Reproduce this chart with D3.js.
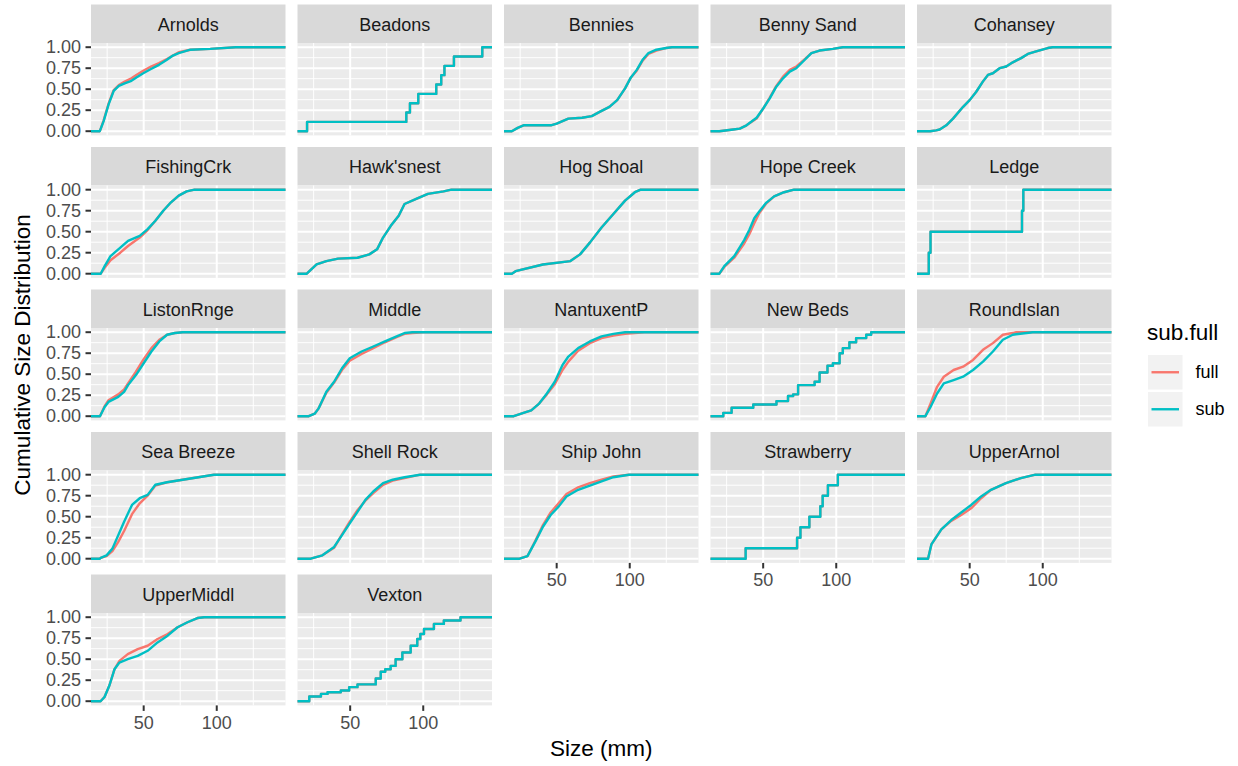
<!DOCTYPE html>
<html>
<head>
<meta charset="utf-8">
<script src="https://cdn.jsdelivr.net/npm/d3@7"></script>
<style>
  body { margin: 0; background: #fff; }
  text { font-family: "Liberation Sans", Arial, Helvetica, sans-serif; }
</style>
</head>
<body>
<div id="chart"></div>
<script>
// facet names, in plotting order
var sites = ["Arnolds", "Beadons", "Bennies", "Benny Sand", "Cohansey",
             "FishingCrk", "Hawk'snest", "Hog Shoal", "Hope Creek", "Ledge",
             "ListonRnge", "Middle", "NantuxentP", "New Beds", "RoundIslan",
             "Sea Breeze", "Shell Rock", "Ship John", "Strawberry", "UpperArnol",
             "UpperMiddl", "Vexton"];

// sites with only a few oysters, drawn as plain steps
var stepSites = ["Beadons", "Ledge", "New Beds", "Strawberry", "Vexton"];

var seriesNames = ["full", "sub"];
var seriesColors = ["#F8766D", "#00BFC4"];

// size range of the data (mm) and axis ticks
var sizeRange = [20, 141];
var xTicks = [50, 100];
var xMinor = [25, 75, 125];
var yTicks = [0, 0.25, 0.5, 0.75, 1];
var yMinor = [0.125, 0.375, 0.625, 0.875];

// each row: [size mm, cum. fraction full, cum. fraction sub]
var arnolds = [[20,0,0],[22.6,0.13,0.12],[26,0.33,0.32],[29.5,0.49,0.48],[33,0.55,0.54],[37,0.59,0.57],
  [41.6,0.63,0.60],[45,0.67,0.64],[49.7,0.72,0.69],[55,0.77,0.74],[60.5,0.81,0.79],[65.9,0.86,0.85],
  [70,0.90,0.90],[74,0.94,0.93],[82,0.97,0.97],[95.6,0.98,0.98],[113,1,1]];
var beadons = [[20.5,0.111,0.111],[88.4,0.222,0.222],[90.9,0.333,0.333],[96.6,0.444,0.444],[108.9,0.556,0.556],
  [112.3,0.667,0.667],[114.5,0.778,0.778],[121,0.889,0.889],[140.4,1,1]];
var bennies = [[19.3,0,0],[23.3,0.04,0.04],[27.3,0.07,0.07],[46,0.07,0.07],[50,0.09,0.09],[54,0.12,0.12],
  [58,0.15,0.15],[67.4,0.16,0.16],[74,0.18,0.18],[79.4,0.23,0.23],[86.1,0.29,0.29],[91.4,0.37,0.37],
  [96.8,0.51,0.51],[100.8,0.64,0.64],[104.8,0.72,0.73],[108.8,0.84,0.85],[112.8,0.92,0.93],
  [118.2,0.96,0.97],[124.9,0.99,0.99],[128.9,1,1]];
var bennySand = [[20,0,0],[29.5,0.02,0.02],[34,0.03,0.03],[38.6,0.07,0.07],[45.5,0.15,0.16],[50,0.27,0.27],
  [54.5,0.40,0.39],[59,0.54,0.53],[63.6,0.65,0.63],[68.2,0.73,0.71],[72.7,0.77,0.75],[77.3,0.84,0.83],
  [83,0.93,0.93],[88.6,0.96,0.96],[97.7,0.98,0.98],[104.5,1,1]];
var cohansey = [[23,0,0],[27,0.01,0.01],[29.5,0.02,0.02],[34,0.07,0.07],[38.6,0.15,0.15],[45.5,0.29,0.29],
  [50,0.37,0.37],[54.5,0.47,0.47],[59,0.59,0.59],[62.5,0.67,0.67],[65.9,0.69,0.69],[70.5,0.75,0.75],
  [75,0.77,0.77],[79.5,0.82,0.82],[85.2,0.87,0.87],[89.8,0.92,0.92],[95.5,0.95,0.95],[103.4,0.99,0.99],[106.8,1,1]];
var fishingCrk = [[20.6,0,0],[23.3,0.07,0.09],[27.3,0.16,0.21],[34,0.25,0.31],[39.3,0.33,0.39],[47.3,0.43,0.45],
  [52.7,0.52,0.53],[58,0.63,0.63],[63.4,0.75,0.75],[68.7,0.85,0.85],[74,0.93,0.93],[79.4,0.98,0.98],[84.8,1,1]];
var hawksnest = [[20.3,0,0],[27,0.11,0.11],[33.7,0.15,0.15],[41.7,0.18,0.18],[55,0.19,0.19],[63.1,0.23,0.23],
  [68.4,0.29,0.29],[72.5,0.43,0.43],[77.8,0.57,0.57],[83.2,0.69,0.69],[87.2,0.83,0.83],[95.2,0.89,0.89],
  [103.2,0.95,0.95],[113.9,0.98,0.98],[119.3,1,1]];
var hogShoal = [[19.3,0,0],[21.9,0.03,0.03],[40.6,0.11,0.11],[59.4,0.15,0.15],[66,0.23,0.23],[72.7,0.37,0.37],
  [80.7,0.55,0.55],[88.8,0.71,0.71],[96.8,0.87,0.87],[103.5,0.97,0.97],[107.5,1,1]];
var hopeCreek = [[20,0,0],[23.4,0.08,0.09],[30.2,0.19,0.21],[37,0.36,0.40],[40.5,0.47,0.52],[43.9,0.60,0.66],
  [47.3,0.72,0.74],[51.8,0.83,0.84],[57.5,0.92,0.92],[64.3,0.97,0.97],[71.1,1,1]];
var ledge = [[22,0.25,0.25],[23.2,0.5,0.5],[85.8,0.75,0.75],[86.7,1,1]];
var listonRnge = [[20.1,0,0],[23.3,0.12,0.11],[25.9,0.19,0.17],[32.6,0.26,0.23],[36.6,0.32,0.29],[39.3,0.39,0.37],
  [44.7,0.53,0.49],[50,0.68,0.63],[55.3,0.81,0.77],[60.7,0.91,0.89],[66,0.97,0.97],[71.4,0.99,0.99],[76.7,1,1]];
var middle = [[21.7,0,0],[25.7,0.03,0.03],[28.3,0.09,0.09],[33.7,0.28,0.29],[39,0.40,0.41],[44.4,0.55,0.57],
  [49.7,0.66,0.69],[57.8,0.74,0.77],[65.8,0.81,0.83],[73.8,0.88,0.89],[81.8,0.94,0.95],[87.2,0.98,0.99],[92.5,0.99,1],[100,1,1]];
var nantuxentP = [[20.6,0,0],[27.3,0.04,0.04],[32.6,0.07,0.07],[38,0.15,0.15],[43.3,0.26,0.27],[48.7,0.38,0.41],
  [54,0.55,0.61],[58,0.65,0.71],[64.7,0.78,0.81],[72.7,0.87,0.89],[80.7,0.93,0.95],[88.8,0.96,0.98],
  [96.8,0.98,1],[110,1,1]];
var newBeds = [[22.7,0.04,0.04],[28.4,0.10,0.10],[43.2,0.14,0.14],[59.1,0.18,0.18],[67,0.24,0.24],[70.5,0.26,0.26],
  [73.9,0.37,0.37],[85.2,0.41,0.41],[88.6,0.52,0.52],[94,0.60,0.60],[97.7,0.63,0.63],[102.3,0.75,0.75],
  [104.5,0.81,0.81],[109,0.88,0.88],[113.6,0.93,0.93],[120.5,0.97,0.97],[123.9,1,1]];
var roundIslan = [[19.7,0,0],[23.2,0.15,0.11],[27.7,0.35,0.27],[32.3,0.47,0.39],[39,0.55,0.43],[45.5,0.59,0.47],
  [52.3,0.67,0.55],[59.1,0.79,0.65],[65.9,0.87,0.77],[72.7,0.97,0.91],[79.5,0.99,0.97],[81.8,1,0.975],[93.2,1,1]];
var seaBreeze = [[20,0,0],[20.6,0.01,0.01],[24.6,0.03,0.04],[28.6,0.09,0.12],[32.6,0.20,0.28],[36.6,0.33,0.44],
  [42,0.53,0.64],[47.3,0.66,0.72],[52.7,0.75,0.76],[58,0.87,0.88],[66,0.91,0.91],[76.7,0.94,0.94],
  [87.4,0.97,0.97],[98.1,1,1]];
var shellRock = [[23,0,0],[31,0.04,0.04],[39,0.13,0.14],[44.4,0.29,0.28],[49.7,0.44,0.42],[55.1,0.58,0.56],
  [60.4,0.69,0.70],[65.8,0.78,0.80],[72.5,0.88,0.90],[79.1,0.93,0.94],[87.2,0.96,0.97],[97.9,1,1]];
var shipJohn = [[24.6,0,0],[30,0.03,0.03],[35.3,0.21,0.20],[40.6,0.40,0.38],[45.9,0.55,0.52],[51.3,0.66,0.62],
  [56.7,0.77,0.74],[64.7,0.85,0.82],[72.7,0.90,0.87],[80.7,0.94,0.92],[88.8,0.98,0.97],[99.5,1,1]];
var strawberry = [[38,0.125,0.125],[73.2,0.25,0.25],[75.5,0.375,0.375],[81.6,0.5,0.5],[89.1,0.625,0.625],
  [90.7,0.75,0.75],[94.3,0.875,0.875],[101.1,1,1]];
var upperArnol = [[21.5,0,0],[23.8,0.17,0.17],[30.6,0.35,0.35],[37.4,0.45,0.46],[44.2,0.52,0.55],[51,0.60,0.64],
  [57.8,0.72,0.74],[64.6,0.82,0.82],[74.8,0.90,0.90],[85,0.96,0.96],[95,1,1]];
var upperMiddl = [[20.5,0,0],[23.2,0.05,0.05],[26.6,0.19,0.19],[30,0.38,0.38],[33.4,0.48,0.46],[39.1,0.56,0.50],
  [45.9,0.62,0.54],[52.7,0.66,0.60],[59.5,0.74,0.70],[66.4,0.80,0.78],[73.2,0.88,0.88],[80,0.94,0.94],
  [86.8,0.99,0.99],[91.4,1,1]];
var vexton = [[22,0.056,0.056],[30,0.087,0.087],[34.5,0.107,0.107],[43.6,0.127,0.127],[49.3,0.167,0.167],
  [55,0.2,0.2],[67.5,0.27,0.27],[70.9,0.35,0.35],[74,0.38,0.38],[77.7,0.42,0.42],[81.1,0.5,0.5],
  [85.7,0.58,0.58],[91.4,0.66,0.66],[95.9,0.74,0.74],[98,0.8,0.8],[100.5,0.86,0.86],[107.3,0.92,0.92],
  [114.1,0.96,0.96],[125.5,1,1]];

var siteData = [arnolds, beadons, bennies, bennySand, cohansey, fishingCrk, hawksnest, hogShoal, hopeCreek,
  ledge, listonRnge, middle, nantuxentP, newBeds, roundIslan, seaBreeze, shellRock, shipJohn, strawberry,
  upperArnol, upperMiddl, vexton];

// layout
var width = 1238, height = 766;
var ncol = 5;
var left0 = 91, top0 = 4.5;
var panelW = 194.5, panelH = 92.4, stripH = 38.5, gapX = 12, gapY = 11.6;
var tickLen = 5.5;
var axisFont = "18px", titleFont = "22.5px";

// 5% expansion like ggplot
var span = sizeRange[1] - sizeRange[0];
var xDom = [sizeRange[0] - span * 0.05, sizeRange[1] + span * 0.05];
var x = d3.scaleLinear().domain(xDom).range([0, panelW]);
var y = d3.scaleLinear().domain([-0.05, 1.05]).range([panelH, 0]);

var svg = d3.select("#chart").append("svg")
  .attr("width", width)
  .attr("height", height);

svg.append("rect").attr("width", width).attr("height", height).attr("fill", "#fff");

sites.forEach(function(name, i) {
  var col = i % ncol, row = Math.floor(i / ncol);
  var gx = left0 + col * (panelW + gapX);
  var gy = top0 + row * (stripH + panelH + gapY);
  var rows = siteData[i];
  var isStep = stepSites.indexOf(name) >= 0;

  // strip
  svg.append("rect")
    .attr("x", gx).attr("y", gy)
    .attr("width", panelW).attr("height", stripH)
    .attr("fill", "#D9D9D9");
  svg.append("text")
    .attr("x", gx + panelW / 2).attr("y", gy + stripH / 2 + 1)
    .attr("text-anchor", "middle")
    .attr("dominant-baseline", "central")
    .style("font-size", axisFont)
    .attr("fill", "#1A1A1A")
    .text(name);

  var g = svg.append("g")
    .attr("transform", "translate(" + gx + "," + (gy + stripH) + ")");

  g.append("rect")
    .attr("width", panelW).attr("height", panelH)
    .attr("fill", "#EBEBEB");

  // minor grid
  g.selectAll(".xminor").data(xMinor).enter().append("line")
    .attr("x1", function(d) { return x(d); }).attr("x2", function(d) { return x(d); })
    .attr("y1", 0).attr("y2", panelH)
    .attr("stroke", "#fff").attr("stroke-width", 1);
  g.selectAll(".yminor").data(yMinor).enter().append("line")
    .attr("y1", function(d) { return y(d); }).attr("y2", function(d) { return y(d); })
    .attr("x1", 0).attr("x2", panelW)
    .attr("stroke", "#fff").attr("stroke-width", 1);
  // major grid
  g.selectAll(".xmajor").data(xTicks).enter().append("line")
    .attr("x1", function(d) { return x(d); }).attr("x2", function(d) { return x(d); })
    .attr("y1", 0).attr("y2", panelH)
    .attr("stroke", "#fff").attr("stroke-width", 2);
  g.selectAll(".ymajor").data(yTicks).enter().append("line")
    .attr("y1", function(d) { return y(d); }).attr("y2", function(d) { return y(d); })
    .attr("x1", 0).attr("x2", panelW)
    .attr("stroke", "#fff").attr("stroke-width", 2);

  // ecdf lines, padded to the panel edges (-Inf / Inf)
  seriesNames.forEach(function(s, k) {
    var pts = [[xDom[0], 0]];
    rows.forEach(function(r) { pts.push([r[0], r[k + 1]]); });
    pts.push([xDom[1], 1]);
    var line = d3.line()
      .x(function(d) { return x(d[0]); })
      .y(function(d) { return y(d[1]); })
      .curve(isStep ? d3.curveStepAfter : d3.curveLinear);
    g.append("path")
      .attr("d", line(pts))
      .attr("fill", "none")
      .attr("stroke", seriesColors[k])
      .attr("stroke-width", 2.4)
      .attr("stroke-linejoin", "round");
  });

  // y axis on first column
  if (col === 0) {
    var ya = g.selectAll(".ytick").data(yTicks).enter().append("g")
      .attr("transform", function(d) { return "translate(0," + y(d) + ")"; });
    ya.append("line").attr("x1", -tickLen).attr("x2", 0)
      .attr("stroke", "#333").attr("stroke-width", 2);
    ya.append("text")
      .attr("x", -tickLen - 4.4)
      .attr("text-anchor", "end")
      .attr("dominant-baseline", "central")
      .style("font-size", axisFont)
      .attr("fill", "#4D4D4D")
      .text(function(d) { return d3.format(".2f")(d); });
  }

  // x axis where no panel sits below
  if (i + ncol >= sites.length) {
    var xa = g.selectAll(".xtick").data(xTicks).enter().append("g")
      .attr("transform", function(d) { return "translate(" + x(d) + "," + panelH + ")"; });
    xa.append("line").attr("y1", 0).attr("y2", tickLen)
      .attr("stroke", "#333").attr("stroke-width", 2);
    xa.append("text")
      .attr("y", tickLen + 4.4)
      .attr("dy", "0.75em")
      .attr("text-anchor", "middle")
      .style("font-size", axisFont)
      .attr("fill", "#4D4D4D")
      .text(function(d) { return d; });
  }
});

// axis titles
var gridRight = left0 + ncol * panelW + (ncol - 1) * gapX;
var gridBottom = top0 + 5 * (stripH + panelH) + 4 * gapY;
svg.append("text")
  .attr("x", (left0 + gridRight) / 2).attr("y", 756)
  .attr("text-anchor", "middle")
  .style("font-size", titleFont)
  .attr("fill", "#000")
  .text("Size (mm)");
svg.append("text")
  .attr("transform", "translate(30," + (top0 + gridBottom) / 2 + ") rotate(-90)")
  .attr("text-anchor", "middle")
  .style("font-size", titleFont)
  .attr("fill", "#000")
  .text("Cumulative Size Distribution");

// legend
var legX = 1148, legY = 355, keySize = 34.5;
svg.append("text")
  .attr("x", legX - 1).attr("y", 340)
  .style("font-size", titleFont)
  .attr("fill", "#000")
  .text("sub.full");
seriesNames.forEach(function(s, k) {
  var ky = legY + k * (keySize + 2.5);
  svg.append("rect")
    .attr("x", legX).attr("y", ky)
    .attr("width", keySize).attr("height", keySize)
    .attr("fill", "#F2F2F2");
  svg.append("line")
    .attr("x1", legX + 3.5).attr("x2", legX + keySize - 3.5)
    .attr("y1", ky + keySize / 2).attr("y2", ky + keySize / 2)
    .attr("stroke", seriesColors[k]).attr("stroke-width", 2.4);
  svg.append("text")
    .attr("x", legX + keySize + 13).attr("y", ky + keySize / 2)
    .attr("dominant-baseline", "central")
    .style("font-size", axisFont)
    .attr("fill", "#000")
    .text(s);
});
</script>
</body>
</html>
